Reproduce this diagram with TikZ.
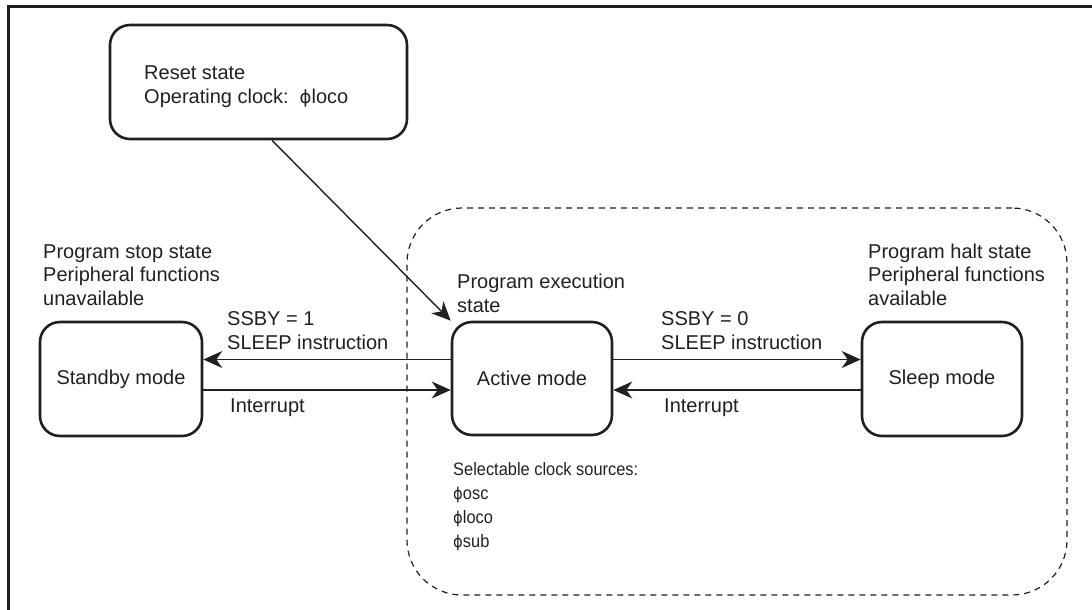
\documentclass[tikz,border=0pt]{standalone}
\usepackage{fontspec}
\setmainfont{Liberation Sans}
\newfontfamily\phifont{DejaVu Sans}
\newcommand{\myphi}{{\phifont\scalebox{0.9}{ϕ}}}
\newcommand{\clk}[1]{\scalebox{0.82}[0.9]{#1}}
\usetikzlibrary{arrows.meta}
\definecolor{ink}{RGB}{35,31,32}
\begin{document}
\begin{tikzpicture}[x=1pt,y=-1pt,
  modebox/.style={draw=ink, text=ink, line width=2.6pt, rounded corners=20pt,
    inner sep=0pt, font=\fontsize{20}{24}\selectfont},
  lbl/.style={anchor=base west, inner sep=0pt, text=ink, font=\fontsize{20}{24}\selectfont},
  arr/.style={draw=ink, line width=1.4pt, -{Stealth[length=19pt,width=17pt,inset=6pt]}},
  zonebox/.style={draw=ink, line width=1.2pt, dash pattern=on 6pt off 5pt, rounded corners=55pt, inner sep=0pt},
]
\useasboundingbox (0,0) rectangle (1092,610);
% frame
\draw[ink, line width=3pt] (8,612) -- (8,7) -- (1094,7);

% dashed zone
\node[zonebox, minimum width=660pt, minimum height=387pt] (zone) at (737,401.5) {};

% mode boxes
\node[modebox, minimum width=297pt, minimum height=114pt] (reset) at (258.5,82) {};
\node[modebox, minimum width=162pt, minimum height=114pt] (standby) at (121,379) {Standby mode};
\node[modebox, minimum width=160pt, minimum height=113pt] (active) at (532,378.5) {Active mode};
\node[modebox, minimum width=160pt, minimum height=114pt] (sleep) at (942,379) {Sleep mode};

% reset text
\node[lbl] (r1) at (144,79) {Reset state};
\node[lbl] (r2) at (144,103) {Operating clock:\hspace{0.55em}\myphi loco};

% state descriptions
\node[lbl] (s1) at (43,258) {Program stop state};
\node[lbl] (s2) at (43,281) {Peripheral functions};
\node[lbl] (s3) at (43,305) {unavailable};

\node[lbl] (h1) at (868,258) {Program halt state};
\node[lbl] (h2) at (868,281) {Peripheral functions};
\node[lbl] (h3) at (868,305) {available};

\node[lbl] (e1) at (457,288) {Program execution};
\node[lbl] (e2) at (457,312) {state};

% transition labels
\node[lbl] (t1) at (227,325) {SSBY = 1};
\node[lbl] (t2) at (227,349) {SLEEP instruction};
\node[lbl] (t3) at (230,412) {Interrupt};
\node[lbl] (t4) at (661,325) {SSBY = 0};
\node[lbl] (t5) at (661,349) {SLEEP instruction};
\node[lbl] (t6) at (664,412) {Interrupt};

% clock sources
\node[lbl] (c1) at (453,475) {\clk{Selectable clock sources:}};
\node[lbl] (c2) at (453,499) {\clk{\myphi osc}};
\node[lbl] (c3) at (453,523) {\clk{\myphi loco}};
\node[lbl] (c4) at (453,547) {\clk{\myphi sub}};

% connectors
\draw[arr] ([xshift=13.5pt]reset.south) -- (active.north west);
\draw[arr] ([yshift=19pt]active.west) -- ([yshift=19pt]active.west -| standby.east);
\draw[arr] ([yshift=-11.5pt]active.west -| standby.east) -- ([yshift=-11.5pt]active.west);
\draw[arr] ([yshift=19pt]active.east) -- ([yshift=19pt]active.east -| sleep.west);
\draw[arr] ([yshift=-11.5pt]active.east -| sleep.west) -- ([yshift=-11.5pt]active.east);
\end{tikzpicture}
\end{document}
